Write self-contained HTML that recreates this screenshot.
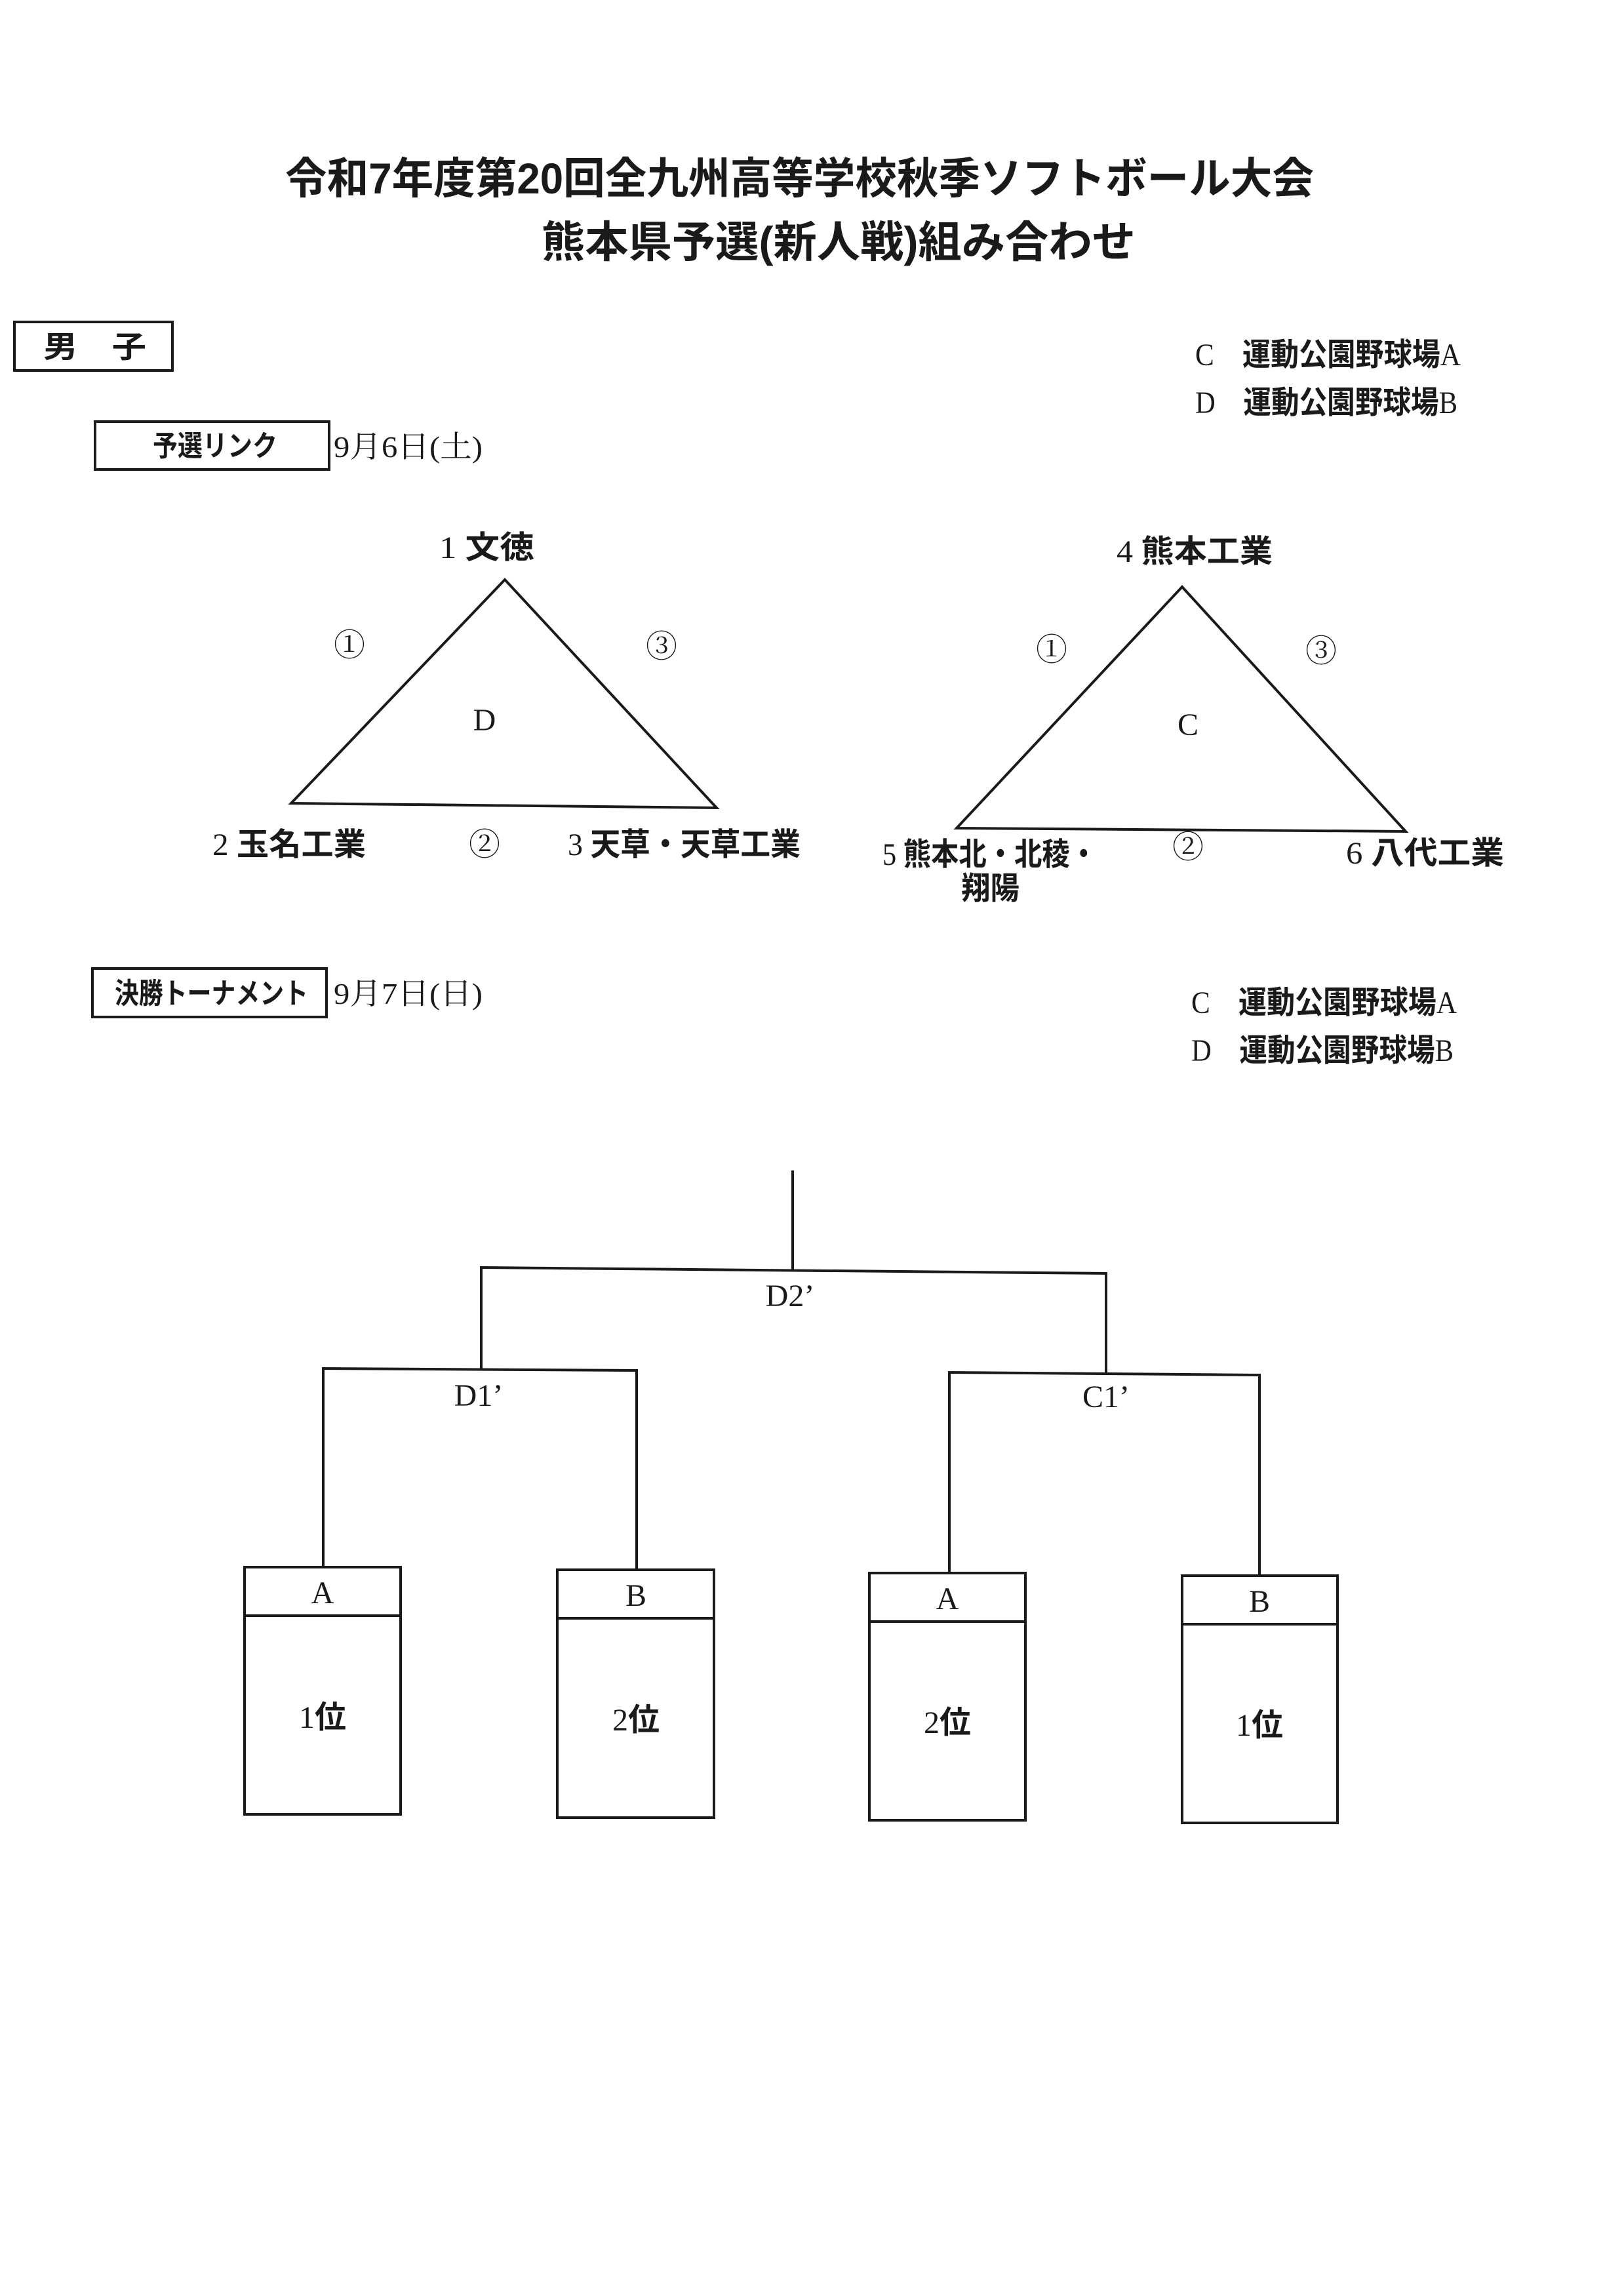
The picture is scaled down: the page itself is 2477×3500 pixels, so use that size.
<!DOCTYPE html>
<html><head><meta charset="utf-8"><style>
html,body{margin:0;padding:0;background:#fff}
svg{display:block}
text{font-family:"Liberation Serif","Noto Serif CJK SC","Noto Sans CJK JP",serif;fill:#1a1a1a}
.b{font-family:"Liberation Sans","Noto Sans CJK JP",sans-serif;font-weight:bold}
</style></head><body>
<svg width="2477" height="3500" viewBox="0 0 2477 3500" xmlns="http://www.w3.org/2000/svg">
<g stroke="#1a1a1a" fill="none" stroke-width="4">
<rect x="22" y="491" width="241" height="74"/>
<rect x="145" y="643" width="357" height="73"/>
<rect x="141" y="1477" width="357" height="74"/>
<polygon points="770,884 444,1225 1093,1232"/>
<polygon points="1803,895 1459,1263 2144,1268"/>
<polyline points="1209,1785 1209,1936"/>
<polyline points="734,2087 734,1933 1687,1942 1687,2093"/>
<polyline points="493,2390 493,2087 971,2090 971,2394"/>
<polyline points="1448,2399 1448,2093 1921,2097 1921,2403"/>
<rect x="373" y="2390" width="238" height="377"/>
<line x1="373" y1="2464" x2="611" y2="2464"/>
<rect x="850" y="2394" width="239" height="378"/>
<line x1="850" y1="2468" x2="1089" y2="2468"/>
<rect x="1326" y="2399" width="238" height="377"/>
<line x1="1326" y1="2473" x2="1564" y2="2473"/>
<rect x="1803" y="2403" width="237" height="377"/>
<line x1="1803" y1="2477" x2="2040" y2="2477"/>
</g>
<text class="b" x="435" y="295" font-size="66" textLength="1569" lengthAdjust="spacingAndGlyphs">令和7年度第20回全九州高等学校秋季ソフトボール大会</text>
<text class="b" x="826" y="392" font-size="66" textLength="906" lengthAdjust="spacingAndGlyphs">熊本県予選(新人戦)組み合わせ</text>
<text class="b" x="66" y="545" font-size="46" textLength="157" lengthAdjust="spacingAndGlyphs">男　子</text>
<text class="b" x="233" y="695" font-size="44" textLength="190" lengthAdjust="spacingAndGlyphs">予選リンク</text>
<text x="509" y="697" font-size="46" textLength="227" lengthAdjust="spacingAndGlyphs">9月6日(土)</text>
<text class="b" x="175" y="1530" font-size="44" textLength="295" lengthAdjust="spacingAndGlyphs">決勝トーナメント</text>
<text x="509" y="1531" font-size="46" textLength="227" lengthAdjust="spacingAndGlyphs">9月7日(日)</text>
<g font-size="48">
<text x="1823" y="557" textLength="405" lengthAdjust="spacingAndGlyphs">C　<tspan class="b">運動公園野球場</tspan>A</text>
<text x="1823" y="630" textLength="400" lengthAdjust="spacingAndGlyphs">D　<tspan class="b">運動公園野球場</tspan>B</text>
<text x="1817" y="1545" textLength="405" lengthAdjust="spacingAndGlyphs">C　<tspan class="b">運動公園野球場</tspan>A</text>
<text x="1817" y="1618" textLength="400" lengthAdjust="spacingAndGlyphs">D　<tspan class="b">運動公園野球場</tspan>B</text>
</g>
<g font-size="48">
<text x="670" y="851" textLength="145" lengthAdjust="spacingAndGlyphs">1 <tspan class="b">文徳</tspan></text>
<text x="533" y="1000" text-anchor="middle">①</text>
<text x="1009" y="1002" text-anchor="middle">③</text>
<text x="739" y="1114" text-anchor="middle">D</text>
<text x="324" y="1304" textLength="234" lengthAdjust="spacingAndGlyphs">2 <tspan class="b">玉名工業</tspan></text>
<text x="739" y="1304" text-anchor="middle">②</text>
<text x="866" y="1304" textLength="355" lengthAdjust="spacingAndGlyphs">3 <tspan class="b">天草・天草工業</tspan></text>
<text x="1703" y="857" textLength="238" lengthAdjust="spacingAndGlyphs">4 <tspan class="b">熊本工業</tspan></text>
<text x="1604" y="1007" text-anchor="middle">①</text>
<text x="2015" y="1009" text-anchor="middle">③</text>
<text x="1812" y="1121" text-anchor="middle">C</text>
<text x="1346" y="1319" textLength="328" lengthAdjust="spacingAndGlyphs">5 <tspan class="b">熊本北・北稜・</tspan></text>
<text class="b" x="1466" y="1371" textLength="89" lengthAdjust="spacingAndGlyphs">翔陽</text>
<text x="1812" y="1308" text-anchor="middle">②</text>
<text x="2053" y="1317" textLength="241" lengthAdjust="spacingAndGlyphs">6 <tspan class="b">八代工業</tspan></text>
</g>
<g font-size="48" text-anchor="middle">
<text x="1205" y="1992">D2’</text>
<text x="730" y="2144">D1’</text>
<text x="1687" y="2146">C1’</text>
<text x="492" y="2445">A</text>
<text x="970" y="2449">B</text>
<text x="1445" y="2454">A</text>
<text x="1921" y="2458">B</text>
<text x="492" y="2635">1<tspan class="b">位</tspan></text>
<text x="970" y="2639">2<tspan class="b">位</tspan></text>
<text x="1445" y="2643">2<tspan class="b">位</tspan></text>
<text x="1921" y="2647">1<tspan class="b">位</tspan></text>
</g>
</svg>
</body></html>
